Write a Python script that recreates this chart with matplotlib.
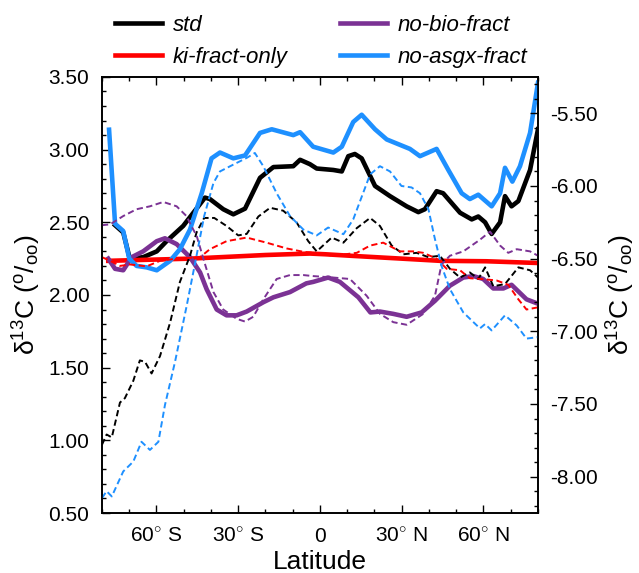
import numpy as np
import matplotlib
matplotlib.use("Agg")
import matplotlib.pyplot as plt
from matplotlib.ticker import MultipleLocator, FixedLocator

plt.rcParams['font.family'] = ['Liberation Sans', 'DejaVu Sans']
plt.rcParams['mathtext.fontset'] = 'custom'
plt.rcParams['mathtext.rm'] = 'Liberation Sans'
plt.rcParams['mathtext.it'] = 'Liberation Sans:italic'

# solid lines (left axis, per mil)
lat_std = [-75.2, -72.2, -69.8, -64.9, -59.9, -56.3, -50.2, -46.5, -42.2, -40.4, -35.5,
           -31.8, -27.5, -22.0, -17.1, -9.8, -7.3, -3.7, -1.2, 4.9, 8.0, 10.4, 12.8, 15.3,
           20.2, 25.7, 31.8, 36.1, 38.5, 42.8, 45.2, 51.4, 55.7, 58.1, 60.6, 63.0, 66.1,
           67.9, 70.3, 72.8, 77.1, 80.0]
std = [2.48, 2.43, 2.25, 2.26, 2.30, 2.37, 2.475, 2.565, 2.67, 2.66, 2.59,
       2.555, 2.594, 2.806, 2.88, 2.886, 2.93, 2.90, 2.87, 2.86, 2.85, 2.955, 2.97, 2.94,
       2.75, 2.68, 2.61, 2.57, 2.59, 2.714, 2.70, 2.566, 2.52, 2.54, 2.50, 2.42, 2.50,
       2.68, 2.61, 2.646, 2.86, 3.14]

lat_ki = [-77.7, -47.7, -20.0, -3.7, 2.0, 11.0, 30.0, 44.0, 61.0, 80.0]
ki = [2.235, 2.25, 2.275, 2.285, 2.28, 2.27, 2.25, 2.235, 2.232, 2.22]

lat_nobio = [-77.7, -75.2, -72.2, -69.1, -64.9, -59.9, -56.9, -52.6, -47.7, -44.0, -41.6,
             -37.9, -34.3, -30.6, -26.9, -20.8, -17.1, -11.0, -5.0, -2.5, 3.0, 7.3, 14.1,
             18.5, 22.0, 26.9, 31.8, 37.3, 42.2, 47.7, 52.6, 56.3, 59.9, 63.6, 67.3, 70.3,
             75.8, 80.0]
nobio = [2.25, 2.18, 2.17, 2.26, 2.30, 2.37, 2.39, 2.35, 2.26, 2.155, 2.04,
         1.90, 1.86, 1.86, 1.886, 1.95, 1.984, 2.02, 2.08, 2.09, 2.12, 2.09, 1.984,
         1.88, 1.886, 1.87, 1.85, 1.88, 1.96, 2.064, 2.12, 2.13, 2.11, 2.045, 2.045, 2.07,
         1.97, 1.94]

lat_noasgx = [-77.4, -75.2, -72.2, -70.0, -67.3, -63.6, -59.9, -55.0, -51.4, -47.7, -43.4,
              -39.8, -36.7, -31.8, -27.5, -22.0, -17.7, -9.8, -7.3, -2.5, 4.9, 8.0, 12.2,
              15.3, 20.2, 24.5, 33.0, 36.7, 42.8, 47.1, 52.0, 55.0, 58.1, 63.0, 66.1, 67.9,
              70.6, 73.4, 77.1, 80.0]
noasgx = [3.137, 2.49, 2.44, 2.25, 2.20, 2.19, 2.17, 2.235, 2.315, 2.45, 2.70,
          2.94, 2.98, 2.94, 2.96, 3.115, 3.14, 3.10, 3.12, 3.02, 2.98, 3.02, 3.19,
          3.24, 3.14, 3.07, 3.005, 2.955, 3.005, 2.86, 2.70, 2.66, 2.69, 2.61, 2.70, 2.875,
          2.78, 2.886, 3.115, 3.46]

# dashed lines (right axis, per mil)
lat_std_d = [-80.0, -78.3, -76.4, -73.4, -71.6, -68.5, -66.1, -64.2, -61.8, -58.7, -55.0,
             -51.4, -47.7, -45.3, -42.5, -38.8, -34.3, -30.0, -26.9, -22.6, -18.3, -13.5,
             -8.6, -4.3, -1.2, 4.3, 8.6, 13.5, 18.4, 22.0, 26.3, 30.6, 35.5, 39.8, 44.0,
             47.7, 51.4, 55.0, 58.1, 60.6, 63.6, 67.9, 72.8, 77.1, 80.0]
std_d = [-7.78, -7.71, -7.73, -7.49, -7.46, -7.34, -7.20, -7.21, -7.29, -7.17, -6.94,
         -6.66, -6.48, -6.32, -6.22, -6.22, -6.275, -6.34, -6.33, -6.21, -6.15, -6.17,
         -6.25, -6.38, -6.45, -6.355, -6.39, -6.29, -6.22, -6.275, -6.41, -6.47, -6.46,
         -6.49, -6.48, -6.57, -6.63, -6.595, -6.64, -6.56, -6.69, -6.675, -6.56, -6.58,
         -6.63]

lat_ki_d = [-80.0, -77.0, -73.4, -69.7, -63.6, -58.7, -52.6, -44.0, -40.4, -34.3, -26.9,
            -19.6, -12.2, -6.1, -2.5, 4.9, 13.5, 18.4, 23.2, 29.4, 34.3, 37.9, 42.8, 46.5,
            51.4, 55.0, 59.3, 64.8, 69.1, 72.8, 75.8, 80.0]
ki_d = [-6.49, -6.515, -6.55, -6.54, -6.553, -6.515, -6.50, -6.49, -6.435, -6.38, -6.355,
        -6.39, -6.43, -6.453, -6.46, -6.48, -6.46, -6.41, -6.39, -6.45, -6.45, -6.46,
        -6.50, -6.57, -6.58, -6.635, -6.64, -6.65, -6.68, -6.78, -6.85, -6.835]

lat_nobio_d = [-80.0, -77.0, -72.2, -67.3, -62.4, -57.5, -52.6, -49.0, -46.5, -45.3, -42.8,
               -39.1, -35.5, -30.6, -27.5, -24.5, -20.8, -15.9, -11.0, -6.1, -2.5, 4.9,
               11.0, 17.1, 22.0, 26.9, 31.8, 37.9, 42.2, 44.6, 47.7, 52.6, 58.7, 62.4, 66.1,
               69.1, 72.2, 77.1, 80.0]
nobio_d = [-6.27, -6.264, -6.207, -6.16, -6.14, -6.11, -6.14, -6.207, -6.30, -6.34, -6.50,
           -6.73, -6.85, -6.914, -6.933, -6.90, -6.78, -6.64, -6.613, -6.613, -6.62, -6.63,
           -6.64, -6.755, -6.88, -6.937, -6.955, -6.88, -6.755, -6.54, -6.48, -6.45, -6.37,
           -6.314, -6.41, -6.46, -6.435, -6.45, -6.48]

lat_noasgx_d = [-80.0, -78.3, -76.4, -72.2, -68.5, -65.5, -62.4, -59.3, -56.9, -53.2, -48.9,
                -45.3, -42.5, -39.1, -36.7, -31.8, -26.9, -23.9, -20.8, -15.9, -11.0, -6.1,
                -1.2, 3.0, 8.6, 12.2, 18.4, 22.0, 25.7, 29.9, 33.6, 36.7, 39.8, 42.0, 44.6,
                47.7, 52.6, 58.7, 60.6, 63.0, 67.9, 72.2, 75.8, 80.0]
noasgx_d = [-8.147, -8.10, -8.136, -7.964, -7.896, -7.76, -7.816, -7.76, -7.508, -7.21, -6.823,
            -6.48, -6.207, -5.98, -5.90, -5.853, -5.807, -5.773, -5.864, -6.05, -6.207, -6.30,
            -6.34, -6.286, -6.332, -6.23, -5.92, -5.864, -5.90, -6.00, -6.01, -6.05, -6.16,
            -6.35, -6.55, -6.71, -6.87, -6.98, -6.95, -6.994, -6.89, -6.96, -7.05, -7.04]

black = 'black'
red = '#ff0000'
purple = '#7b3294'
blue = '#1e90ff'

fig = plt.figure(figsize=(6.39, 5.73), dpi=100)
ax = fig.add_axes([0.1596, 0.1047, 0.6823, 0.761])
ax2 = ax.twinx()

lw = 3.3
dash = (0, (3.2, 1.8))
h1, = ax.plot(lat_std, std, color=black, lw=lw, label='std', zorder=5)
h2, = ax.plot(lat_ki, ki, color=red, lw=lw, label='ki-fract-only', zorder=5)
h3, = ax.plot(lat_nobio, nobio, color=purple, lw=lw, label='no-bio-fract', zorder=5)
h4, = ax.plot(lat_noasgx, noasgx, color=blue, lw=lw, label='no-asgx-fract', zorder=5)

ax2.plot(lat_std_d, std_d, color=black, lw=1.4, ls=dash)
ax2.plot(lat_ki_d, ki_d, color=red, lw=1.4, ls=dash)
ax2.plot(lat_nobio_d, nobio_d, color=purple, lw=1.4, ls=dash)
ax2.plot(lat_noasgx_d, noasgx_d, color=blue, lw=1.4, ls=dash)

ax.set_xlim(-80, 80)
ax.set_ylim(0.5, 3.5)
ax2.set_ylim(-8.25, -5.25)

ax.set_xticks([-60, -30, 0, 30, 60])
ax.set_xticklabels(['60$^{\\circ}$ S', '30$^{\\circ}$ S', '0', '30$^{\\circ}$ N', '60$^{\\circ}$ N'])
ax.xaxis.set_minor_locator(MultipleLocator(10))
ax.yaxis.set_major_locator(MultipleLocator(0.5))
ax.yaxis.set_minor_locator(MultipleLocator(0.1))
ax.yaxis.set_major_formatter(matplotlib.ticker.FormatStrFormatter('%.2f'))
ax2.yaxis.set_major_locator(FixedLocator([-8.0, -7.5, -7.0, -6.5, -6.0, -5.5]))
ax2.yaxis.set_minor_locator(MultipleLocator(0.1))
ax2.yaxis.set_major_formatter(matplotlib.ticker.FormatStrFormatter('%.2f'))

for a in (ax, ax2):
    a.tick_params(which='major', direction='in', length=6, width=1.0, labelsize=15, pad=9)
    a.tick_params(which='minor', direction='in', length=3, width=1.0)
    for s in a.spines.values():
        s.set_linewidth(1.2)
ax.tick_params(axis='x', which='both', top=True)
ax.tick_params(axis='x', which='major', labelsize=15, pad=10)

ylab = 'δ$^{13}$C ($^{\\mathrm{o}}$/$_{\\mathrm{oo}}$)'
ax.set_ylabel(ylab, fontsize=19, labelpad=4)
ax2.set_ylabel(ylab, fontsize=19, labelpad=5)
ax.set_xlabel('Latitude', fontsize=19, labelpad=3)

leg = fig.legend([h1, h2, h3, h4], ['std', 'ki-fract-only', 'no-bio-fract', 'no-asgx-fract'],
                 ncol=2, loc='upper left', bbox_to_anchor=(115 / 639, 1 - 15 / 573),
                 frameon=False, borderpad=0, borderaxespad=0,
                 prop={'size': 16, 'style': 'italic'}, handlelength=2.1,
                 columnspacing=2.35, labelspacing=0.5, handletextpad=0.5)

fig.savefig('out.png', dpi=100)
